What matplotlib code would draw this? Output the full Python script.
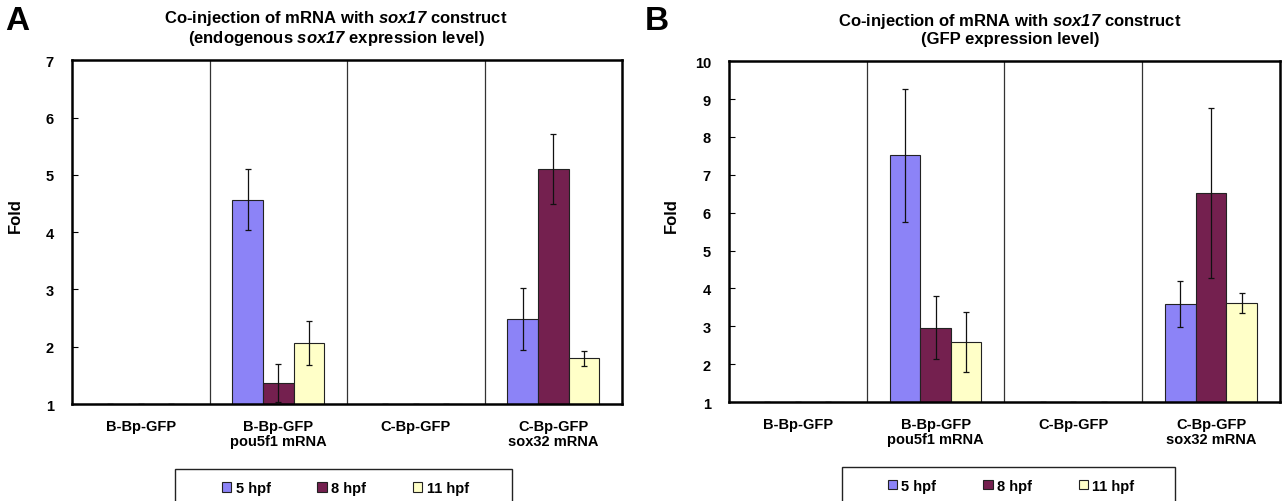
import numpy as np
import matplotlib
matplotlib.use("Agg")
import matplotlib.pyplot as plt
from matplotlib.patches import Rectangle

plt.rcParams['font.family'] = ['Liberation Sans', 'DejaVu Sans']
plt.rcParams['font.weight'] = 'bold'
plt.rcParams['mathtext.fontset'] = 'custom'
plt.rcParams['mathtext.it'] = 'Liberation Sans:italic:bold'
plt.rcParams['mathtext.rm'] = 'Liberation Sans:italic:bold'

groups = ["B-Bp-GFP", "B-Bp-GFP\npou5f1 mRNA", "C-Bp-GFP", "C-Bp-GFP\nsox32 mRNA"]
stages = ["5 hpf", "8 hpf", "11 hpf"]
colors = ["#8C83F7", "#74204F", "#FFFFC8"]

# panel A: endogenous sox17
a_5 = [1.0, 4.57, 1.0, 2.48]
a_8 = [1.0, 1.37, 1.0, 5.10]
a_11 = [1.0, 2.07, 1.0, 1.80]
a_5_err = [0, 0.53, 0, 0.54]
a_8_err = [0, 0.33, 0, 0.61]
a_11_err = [0, 0.38, 0, 0.13]

# panel B: GFP
b_5 = [1.0, 7.52, 1.0, 3.58]
b_8 = [1.0, 2.96, 1.0, 6.52]
b_11 = [1.0, 2.58, 1.0, 3.62]
b_5_err = [0, 1.76, 0, 0.61]
b_8_err = [0, 0.83, 0, 2.24]
b_11_err = [0, 0.79, 0, 0.27]


def panel(ax, series, errs, ymax, title, title_x, leg_x, box_x, box_w):
    x = np.arange(len(groups))
    w = 2.0 / 9
    for i, (vals, err) in enumerate(zip(series, errs)):
        ax.bar(x + (i - 1) * w, vals, w, color=colors[i], edgecolor="#222222",
               linewidth=0.8, label=stages[i], zorder=2)
        ax.errorbar(x + (i - 1) * w, vals, yerr=err, fmt="none", ecolor="#111111",
                    elinewidth=0.9, capsize=2.5, capthick=0.9, zorder=3)
    for d in [0.5, 1.5, 2.5]:
        ax.axvline(d, color="#333333", linewidth=0.9, zorder=1)
    ax.set_xlim(-0.5, 3.5)
    ax.set_ylim(1, ymax)
    ax.set_yticks(range(1, ymax + 1))
    ax.set_xticks(x)
    ax.set_xticklabels(groups, fontsize=10.5, fontweight="bold", linespacing=1.1)
    ax.tick_params(axis="x", length=0, pad=11)
    ax.tick_params(axis="y", direction="in", length=4, labelsize=10.5, pad=13)
    for s in ax.spines.values():
        s.set_linewidth(1.8)
        s.set_zorder(4)
    ax.set_ylabel("Fold", fontsize=12, fontweight="bold")
    ax.yaxis.set_label_coords(-0.09, 0.55)
    ax.set_title(title, fontsize=12, fontweight="bold", pad=13, linespacing=1.1,
                 x=title_x)

    # legend box below the plot, wider than its entries
    leg = ax.legend(loc="center", bbox_to_anchor=(leg_x, -0.245), ncol=3,
                    fontsize=10.5, frameon=False,
                    handlelength=0.65, handleheight=0.65, handletextpad=0.3,
                    columnspacing=3.2)
    for t in leg.get_texts():
        t.set_fontweight("bold")
    for h in leg.legend_handles:
        h.set_edgecolor("#222222")
        h.set_linewidth(0.8)
    ax.add_patch(Rectangle((box_x, -0.31), box_w, 0.12, transform=ax.transAxes,
                           fill=False, edgecolor="#222222", linewidth=1.0,
                           clip_on=False))


fig = plt.figure(figsize=(12.82, 5.02), dpi=100)
ax1 = fig.add_axes([0.0562, 0.193, 0.429, 0.685])
ax2 = fig.add_axes([0.5686, 0.197, 0.4298, 0.679])

panel(ax1, [a_5, a_8, a_11], [a_5_err, a_8_err, a_11_err], 7,
      "Co-injection of mRNA with $\\mathrm{sox17}$ construct\n(endogenous $\\mathrm{sox17}$ expression level)",
      0.48, 0.497, 0.187, 0.613)
panel(ax2, [b_5, b_8, b_11], [b_5_err, b_8_err, b_11_err], 10,
      "Co-injection of mRNA with $\\mathrm{sox17}$ construct\n(GFP expression level)",
      0.51, 0.512, 0.205, 0.604)

fig.text(0.004, 0.958, "A", fontsize=24, fontweight="bold", va="center")
fig.text(0.503, 0.958, "B", fontsize=24, fontweight="bold", va="center")

fig.savefig("out.png", dpi=100)
